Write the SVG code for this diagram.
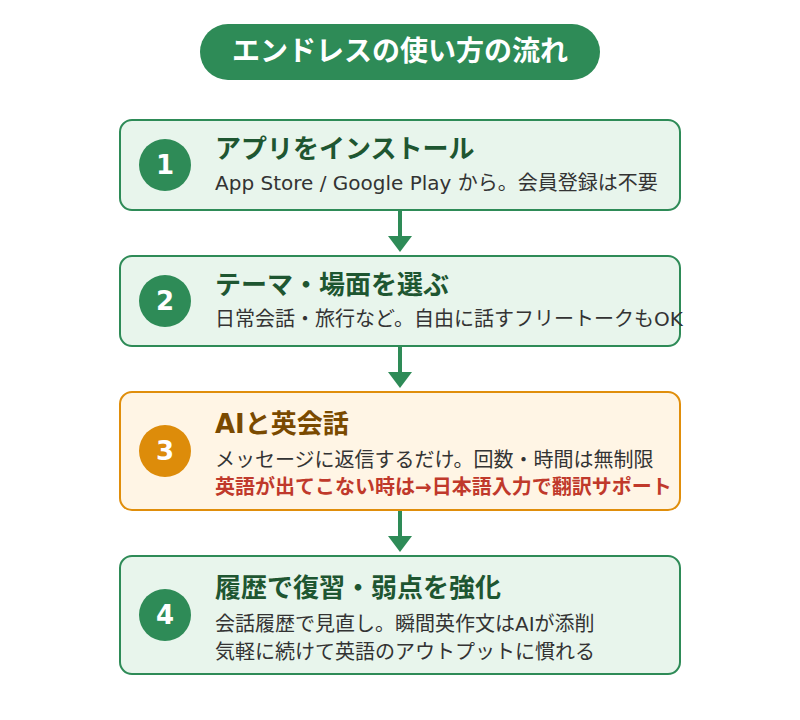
<svg xmlns="http://www.w3.org/2000/svg" width="800" height="720" viewBox="0 0 800 720">
<defs>
<style>
text{font-family:"DejaVu Sans","Noto Sans CJK JP",sans-serif}
.box-g{fill:#e8f5ec;stroke:#2e8b57;stroke-width:2}
.box-o{fill:#fff5e5;stroke:#e08e0b;stroke-width:2}
.num{fill:#fff;font-size:26px;font-weight:bold;text-anchor:middle}
.tg{fill:#1e5631;font-size:26px;font-weight:bold}
.to{fill:#7a4a00;font-size:26px;font-weight:bold}
.sub{fill:#333;font-size:20px}
.red{fill:#c0392b;font-size:20px;font-weight:bold}
.conn{stroke:#2e8b57;stroke-width:4}
</style>
</defs>
<rect width="800" height="720" fill="#fff"/>
<g id="title">
<rect x="200" y="24" width="400" height="56" rx="28" fill="#2e8b57"/>
<text x="400" y="61" font-size="28" font-weight="bold" fill="#fff" text-anchor="middle">エンドレスの使い方の流れ</text>
</g>
<g id="connectors">
<line class="conn" x1="400" y1="210" x2="400" y2="238"/>
<polygon points="388,236 412,236 400,252" fill="#2e8b57"/>
<line class="conn" x1="400" y1="346" x2="400" y2="374"/>
<polygon points="388,372 412,372 400,388" fill="#2e8b57"/>
<line class="conn" x1="400" y1="510" x2="400" y2="538"/>
<polygon points="388,536 412,536 400,552" fill="#2e8b57"/>
</g>
<g id="step1">
<rect class="box-g" x="120" y="120" width="560" height="90" rx="12"/>
<circle cx="165" cy="165" r="26" fill="#2e8b57"/>
<text class="num" x="165" y="174">1</text>
<text class="tg" x="215" y="158">アプリをインストール</text>
<text class="sub" x="215" y="190">App Store / Google Play から。会員登録は不要</text>
</g>
<g id="step2">
<rect class="box-g" x="120" y="256" width="560" height="90" rx="12"/>
<circle cx="165" cy="301" r="26" fill="#2e8b57"/>
<text class="num" x="165" y="310">2</text>
<text class="tg" x="215" y="294">テーマ・場面を選ぶ</text>
<text class="sub" x="215" y="326">日常会話・旅行など。自由に話すフリートークもOK</text>
</g>
<g id="step3">
<rect class="box-o" x="120" y="392" width="560" height="118" rx="12"/>
<circle cx="165" cy="451" r="26" fill="#dd8c0a"/>
<text class="num" x="165" y="460">3</text>
<text class="to" x="215" y="433">AIと英会話</text>
<text class="sub" x="215" y="467">メッセージに返信するだけ。回数・時間は無制限</text>
<text class="red" x="215" y="494">英語が出てこない時は→日本語入力で翻訳サポート</text>
</g>
<g id="step4">
<rect class="box-g" x="120" y="556" width="560" height="118" rx="12"/>
<circle cx="165" cy="615" r="26" fill="#2e8b57"/>
<text class="num" x="165" y="624">4</text>
<text class="tg" x="215" y="597">履歴で復習・弱点を強化</text>
<text class="sub" x="215" y="631">会話履歴で見直し。瞬間英作文はAIが添削</text>
<text class="sub" x="215" y="659">気軽に続けて英語のアウトプットに慣れる</text>
</g>
</svg>
